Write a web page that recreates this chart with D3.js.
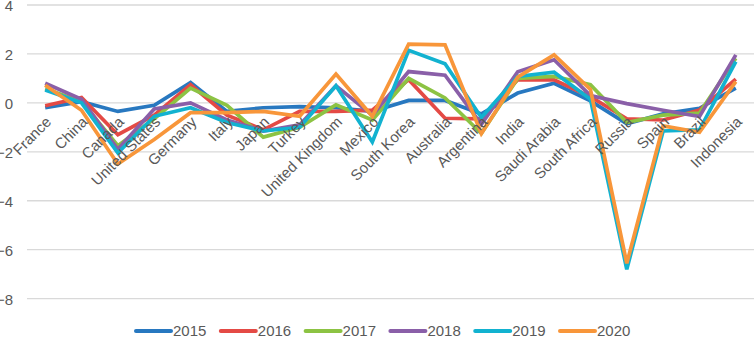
<!DOCTYPE html>
<html><head><meta charset="utf-8">
<script src="https://cdn.jsdelivr.net/npm/d3@7"></script>
<style>
html,body{margin:0;padding:0;background:#fff;}
svg{display:block;font-family:"Liberation Sans",Arial,sans-serif;}
</style></head>
<body><svg id="c" width="754" height="337"></svg>
<script>
const categories = ["France","China","Canada","United States","Germany","Italy","Japan","Turkey","United Kingdom","Mexico","South Korea","Australia","Argentina","India","Saudi Arabia","South Africa","Russia","Spain","Brazil","Indonesia"];
const years = ["2015","2016","2017","2018","2019","2020"];
const s2015 = [-0.2,0.05,-0.35,-0.1,0.83,-0.35,-0.2,-0.15,-0.2,-0.35,0.1,0.1,-0.45,0.4,0.8,0.08,-0.85,-0.45,-0.22,0.6];
const s2016 = [-0.12,0.22,-1.3,-0.5,0.74,-0.5,-1.1,-0.35,-0.35,-0.3,0.95,-0.63,-0.65,0.95,0.94,0.25,-0.65,-0.7,-0.29,0.97];
const s2017 = [0.58,0.05,-1.75,-0.65,0.6,-0.1,-1.4,-1.0,-0.08,-0.7,1.0,0.2,-1.25,1.0,1.08,0.74,-0.8,-0.5,-0.42,1.82];
const s2018 = [0.8,0.15,-1.9,-0.25,0.0,-0.7,-1.15,-0.9,0.7,-0.5,1.28,1.13,-0.88,1.27,1.76,0.3,-0.03,-0.3,-0.56,1.96];
const s2019 = [0.53,0.0,-2.05,-0.55,-0.2,-0.8,-1.15,-1.0,0.7,-1.6,2.15,1.6,-0.6,1.08,1.25,0.15,-6.8,-1.15,-1.1,1.69];
const s2020 = [0.72,-0.3,-2.5,-1.5,-0.4,-0.4,-0.35,-0.55,1.18,-0.55,2.4,2.37,-1.25,1.05,1.96,0.55,-6.56,-0.94,-1.2,0.87];
const yTicks = [4,2,0,-2,-4,-6,-8];
const colors = ["#2878C0","#E44A45","#8CC343","#8A5FA8","#12B2D0","#F8963A"];

const series = [s2015,s2016,s2017,s2018,s2019,s2020];
const svg = d3.select("#c");
const x = d3.scaleBand().domain(categories).range([27,754]);
const y = d3.scaleLinear().domain([-8,4]).range([298.6,5]);
const cx = c => x(c) + x.bandwidth()/2;

// gridlines
svg.append("g").selectAll("line").data(yTicks).join("line")
  .attr("x1",27).attr("x2",754).attr("y1",d=>y(d)).attr("y2",d=>y(d))
  .attr("stroke","#D9D9D9").attr("stroke-width",1.3);

// y axis labels
const yAxis = d3.axisLeft(y).tickValues(yTicks).tickSize(0).tickPadding(0).tickFormat(d3.format("d"));
const ya = svg.append("g").attr("transform","translate(13,0)").call(yAxis);
ya.select(".domain").remove();
ya.selectAll("text").attr("font-size",15).attr("fill","#595959").attr("font-family","Liberation Sans, Arial, sans-serif").attr("dy","0.36em");

// lines
const line = d3.line().x((d,i)=>cx(categories[i])).y(d=>y(d));
svg.append("g").selectAll("path").data(series).join("path")
  .attr("d",d=>line(d)).attr("fill","none")
  .attr("stroke",(d,i)=>colors[i]).attr("stroke-width",3.7)
  .attr("stroke-linejoin","miter").attr("stroke-linecap","butt");

// category labels
svg.append("g").selectAll("text").data(categories).join("text")
  .attr("transform",d=>`translate(${cx(d)+7},${y(0)+20}) rotate(-45)`)
  .attr("text-anchor","end")
  .attr("font-size",15).attr("fill","#595959").text(d=>d);

// legend
const lg = svg.append("g").selectAll("g").data(years).join("g")
  .attr("transform",(d,i)=>`translate(${136+i*84.8},331)`);
lg.append("line").attr("x1",0).attr("x2",35).attr("y1",0).attr("y2",0)
  .attr("stroke",(d,i)=>colors[i]).attr("stroke-width",4).attr("stroke-linecap","round");
lg.append("text").attr("x",37).attr("dy","0.36em").attr("font-size",15).attr("fill","#595959").text(d=>d);
</script></body></html>
